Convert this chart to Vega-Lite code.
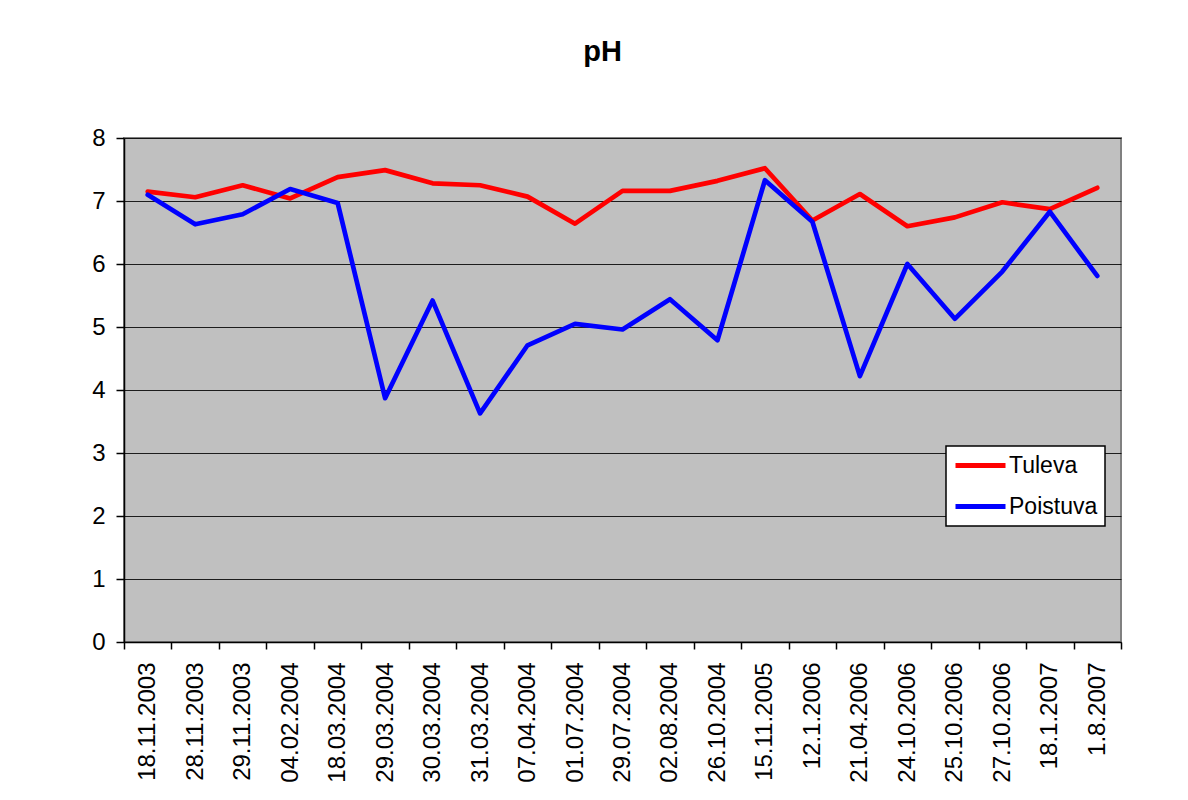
{
  "$schema": "https://vega.github.io/schema/vega-lite/v6.json",
  "width": 997,
  "height": 504,
  "autosize": {"type": "none"},
  "padding": {"left": 124, "top": 138, "right": 67, "bottom": 158},
  "background": "white",
  "title": {
    "text": "pH",
    "font": "Liberation Sans",
    "fontSize": 29,
    "fontWeight": "bold",
    "color": "black",
    "anchor": "middle",
    "baseline": "alphabetic",
    "offset": 36,
    "dx": -20
  },
  "data": {
    "values": [
      {"date": "18.11.2003", "series": "Tuleva", "pH": 7.15},
      {"date": "28.11.2003", "series": "Tuleva", "pH": 7.06},
      {"date": "29.11.2003", "series": "Tuleva", "pH": 7.25},
      {"date": "04.02.2004", "series": "Tuleva", "pH": 7.04},
      {"date": "18.03.2004", "series": "Tuleva", "pH": 7.38},
      {"date": "29.03.2004", "series": "Tuleva", "pH": 7.49},
      {"date": "30.03.2004", "series": "Tuleva", "pH": 7.28},
      {"date": "31.03.2004", "series": "Tuleva", "pH": 7.25},
      {"date": "07.04.2004", "series": "Tuleva", "pH": 7.07},
      {"date": "01.07.2004", "series": "Tuleva", "pH": 6.64},
      {"date": "29.07.2004", "series": "Tuleva", "pH": 7.16},
      {"date": "02.08.2004", "series": "Tuleva", "pH": 7.16},
      {"date": "26.10.2004", "series": "Tuleva", "pH": 7.32},
      {"date": "15.11.2005", "series": "Tuleva", "pH": 7.52},
      {"date": "12.1.2006", "series": "Tuleva", "pH": 6.69},
      {"date": "21.04.2006", "series": "Tuleva", "pH": 7.11},
      {"date": "24.10.2006", "series": "Tuleva", "pH": 6.6},
      {"date": "25.10.2006", "series": "Tuleva", "pH": 6.74},
      {"date": "27.10.2006", "series": "Tuleva", "pH": 6.98},
      {"date": "18.1.2007", "series": "Tuleva", "pH": 6.87},
      {"date": "1.8.2007", "series": "Tuleva", "pH": 7.21},
      {"date": "18.11.2003", "series": "Poistuva", "pH": 7.1},
      {"date": "28.11.2003", "series": "Poistuva", "pH": 6.63},
      {"date": "29.11.2003", "series": "Poistuva", "pH": 6.79},
      {"date": "04.02.2004", "series": "Poistuva", "pH": 7.19},
      {"date": "18.03.2004", "series": "Poistuva", "pH": 6.97},
      {"date": "29.03.2004", "series": "Poistuva", "pH": 3.87},
      {"date": "30.03.2004", "series": "Poistuva", "pH": 5.42},
      {"date": "31.03.2004", "series": "Poistuva", "pH": 3.63},
      {"date": "07.04.2004", "series": "Poistuva", "pH": 4.71},
      {"date": "01.07.2004", "series": "Poistuva", "pH": 5.05},
      {"date": "29.07.2004", "series": "Poistuva", "pH": 4.96},
      {"date": "02.08.2004", "series": "Poistuva", "pH": 5.44},
      {"date": "26.10.2004", "series": "Poistuva", "pH": 4.79},
      {"date": "15.11.2005", "series": "Poistuva", "pH": 7.33},
      {"date": "12.1.2006", "series": "Poistuva", "pH": 6.67},
      {"date": "21.04.2006", "series": "Poistuva", "pH": 4.22},
      {"date": "24.10.2006", "series": "Poistuva", "pH": 6.0},
      {"date": "25.10.2006", "series": "Poistuva", "pH": 5.13},
      {"date": "27.10.2006", "series": "Poistuva", "pH": 5.88},
      {"date": "18.1.2007", "series": "Poistuva", "pH": 6.83},
      {"date": "1.8.2007", "series": "Poistuva", "pH": 5.81}
    ]
  },
  "mark": {"type": "line", "strokeWidth": 4.7, "strokeJoin": "round", "strokeCap": "round"},
  "encoding": {
    "x": {
      "field": "date",
      "type": "nominal",
      "sort": null,
      "scale": {"type": "band", "paddingInner": 0, "paddingOuter": 0},
      "axis": {
        "title": null,
        "labelAngle": -90,
        "labelAlign": "right",
        "labelBaseline": "middle",
        "labelFont": "Liberation Sans",
        "labelFontSize": 24,
        "labelColor": "black",
        "labelPadding": 13,
        "tickSize": 7,
        "tickBand": "extent",
        "tickColor": "black",
        "tickWidth": 1.5,
        "domainColor": "black",
        "domainWidth": 1.5,
        "grid": false,
        "labelOverlap": false
      }
    },
    "y": {
      "field": "pH",
      "type": "quantitative",
      "scale": {"domain": [0, 8], "nice": false},
      "axis": {
        "title": null,
        "values": [0, 1, 2, 3, 4, 5, 6, 7, 8],
        "labelFont": "Liberation Sans",
        "labelFontSize": 24,
        "labelColor": "black",
        "labelPadding": 11,
        "tickSize": 8,
        "tickColor": "black",
        "tickWidth": 1.5,
        "domainColor": "black",
        "domainWidth": 1.5,
        "grid": true,
        "gridColor": "black",
        "gridWidth": 1.2,
        "gridOpacity": 0.85
      }
    },
    "color": {
      "field": "series",
      "type": "nominal",
      "scale": {"domain": ["Tuleva", "Poistuva"], "range": ["#ff0000", "#0000ff"]},
      "legend": {
        "title": null,
        "orient": "none",
        "legendX": 822,
        "legendY": 308,
        "direction": "vertical",
        "fillColor": "white",
        "strokeColor": "black",
        "padding": 7,
        "symbolType": "M-2.5,0H2.5",
        "symbolSize": 400,
        "symbolStrokeWidth": 5,
        "symbolOffset": 15,
        "labelOffset": 16,
        "labelFont": "Liberation Sans",
        "labelFontSize": 23,
        "labelColor": "black",
        "rowPadding": 16,
        "encode": {"legend": {"update": {"strokeWidth": {"value": 1.5}}}}
      }
    }
  },
  "config": {
    "view": {"fill": "#c0c0c0", "stroke": "#808080", "strokeWidth": 2}
  }
}
